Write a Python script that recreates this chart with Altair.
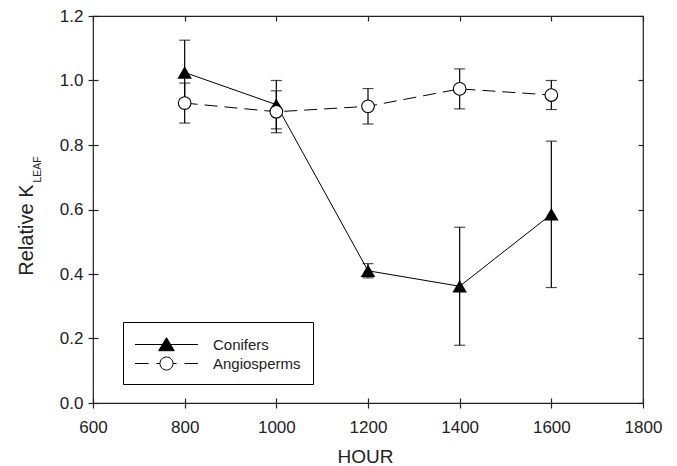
import altair as alt
import pandas as pd

# ---- data ----
hours = [800, 1000, 1200, 1400, 1600]
conifers = [1.025, 0.925, 0.41, 0.362, 0.585]
conifers_err = [0.10, 0.075, 0.022, 0.183, 0.227]
angiosperms = [0.93, 0.903, 0.92, 0.974, 0.955]
angiosperms_err = [0.062, 0.065, 0.055, 0.062, 0.045]
series = ["Conifers", "Angiosperms"]
x_ticks = [600, 800, 1000, 1200, 1400, 1600, 1800]
y_ticks = [0.0, 0.2, 0.4, 0.6, 0.8, 1.0, 1.2]

rows = []
for name, vals, errs in [("Conifers", conifers, conifers_err),
                         ("Angiosperms", angiosperms, angiosperms_err)]:
    for h, v, e in zip(hours, vals, errs):
        rows.append({"hour": h, "value": v, "lo": v - e, "hi": v + e, "series": name})
df = pd.DataFrame(rows)
con = df[df.series == "Conifers"]
ang = df[df.series == "Angiosperms"]
first = df[df.hour == hours[0]]

FONT = "Liberation Sans"
INK = "#222222"
xs = alt.Scale(domain=[600, 1800], nice=False, zero=False)
ys = alt.Scale(domain=[0, 1.2], nice=False, zero=False)

common = dict(grid=False, domain=False, tickColor=INK, tickWidth=1.2, tickSize=5)

ax_x_main = alt.Axis(orient="bottom", values=x_ticks, format="d", title="HOUR",
                     labelFont=FONT, labelFontSize=17, labelColor=INK, labelPadding=24,
                     labelBaseline="alphabetic", labelFlush=False, labelOverlap=False,
                     titleFont=FONT, titleFontSize=19, titleFontWeight="normal", titleColor=INK,
                     titleX=272, titleY=59, titleBaseline="alphabetic", titleAlign="center",
                     **common)
ax_x_in = alt.Axis(orient="bottom", offset=-5, values=x_ticks, labels=False, title=None, **common)
ax_x_top = alt.Axis(orient="top", offset=-5, values=x_ticks, labels=False, title=None, **common)

ax_y_main = alt.Axis(orient="left", values=y_ticks, format=".1f", title="Relative K",
                     labelFont=FONT, labelFontSize=17, labelColor=INK, labelPadding=5,
                     labelFlush=False, labelOverlap=False,
                     titleFont=FONT, titleFontSize=20, titleFontWeight="normal", titleColor=INK,
                     titleAngle=270, titleAlign="right", titleBaseline="alphabetic",
                     titleX=-61, titleY=168, **common)
ax_y_in = alt.Axis(orient="left", offset=-5, values=y_ticks, labels=False, title="LEAF",
                   titleFont=FONT, titleFontSize=10.5, titleFontWeight="normal", titleColor=INK,
                   titleAngle=270, titleAlign="left", titleBaseline="alphabetic",
                   titleX=-58, titleY=166, **common)
ax_y_right = alt.Axis(orient="right", offset=-5, values=y_ticks, labels=False, title=None, **common)

# legend symbols: line + marker, drawn as custom paths
path_con = "M-3.15,0H3.15M0,-0.68L0.78,0.62L-0.78,0.62Z"
path_ang = ("M-3.15,0H-1.8M-1.0,0H-0.65M0.65,0H1.0M1.8,0H3.15"
            "M-0.65,0A0.65,0.65 0 1,1 0.65,0A0.65,0.65 0 1,1 -0.65,0Z")

def legend():
    return alt.Legend(orient="none", legendX=30, legendY=306, title=None, padding=12,
                      strokeColor="black", labelFont=FONT, labelFontSize=15, labelColor=INK,
                      symbolSize=400, symbolOpacity=1, symbolStrokeWidth=1,
                      symbolOffset=21, labelOffset=36, rowPadding=-1)

line_con = alt.Chart(con).mark_line(color="black", strokeWidth=1).encode(
    x=alt.X("hour:Q", scale=xs, axis=ax_x_main),
    y=alt.Y("value:Q", scale=ys, axis=ax_y_main))
line_ang = alt.Chart(ang).mark_line(color="black", strokeWidth=1, strokeDash=[13, 7]).encode(
    x=alt.X("hour:Q", scale=xs, axis=ax_x_in),
    y=alt.Y("value:Q", scale=ys, axis=ax_y_in))
err = alt.Chart(df).mark_rule(color="black", strokeWidth=1.2).encode(
    x=alt.X("hour:Q", scale=xs, axis=ax_x_top),
    y=alt.Y("lo:Q", scale=ys, axis=ax_y_right),
    y2="hi:Q")
cap_lo = alt.Chart(df).mark_tick(color="black", orient="horizontal", size=11, thickness=1.2).encode(
    x=alt.X("hour:Q", scale=xs, axis=None),
    y=alt.Y("lo:Q", scale=ys, axis=None))
cap_hi = alt.Chart(df).mark_tick(color="black", orient="horizontal", size=11, thickness=1.2).encode(
    x=alt.X("hour:Q", scale=xs, axis=None),
    y=alt.Y("hi:Q", scale=ys, axis=None))
pts_con = alt.Chart(con).mark_point(shape="triangle-up", filled=True, color="black",
                                    size=210, opacity=1).encode(
    x=alt.X("hour:Q", scale=xs, axis=None),
    y=alt.Y("value:Q", scale=ys, axis=None))
pts_ang = alt.Chart(ang).mark_point(shape="circle", fill="white", stroke="black",
                                    strokeWidth=1.1, size=160, opacity=1).encode(
    x=alt.X("hour:Q", scale=xs, axis=None),
    y=alt.Y("value:Q", scale=ys, axis=None))
leg = alt.Chart(first).mark_point(opacity=0, size=400, strokeWidth=1).encode(
    x=alt.X("hour:Q", scale=xs, axis=None),
    y=alt.Y("value:Q", scale=ys, axis=None),
    shape=alt.Shape("series:N", scale=alt.Scale(domain=series, range=[path_con, path_ang]),
                    legend=legend()),
    fill=alt.Fill("series:N", scale=alt.Scale(domain=series, range=["black", "white"]),
                  legend=legend()),
    stroke=alt.Stroke("series:N", scale=alt.Scale(domain=series, range=["black", "black"]),
                      legend=legend()))

chart = alt.layer(line_con, line_ang, err, cap_lo, cap_hi, pts_con, pts_ang, leg).resolve_axis(
    x="independent", y="independent"
).properties(
    width=550, height=387,
    padding={"left": 85, "top": 8, "right": 20, "bottom": 62},
    autosize=alt.AutoSizeParams(type="none"),
    background="white",
).configure_view(stroke=INK, strokeWidth=1.2).configure_legend(strokeWidth=1)

chart.save("out.html", embed_options={"renderer": "svg", "actions": False})
